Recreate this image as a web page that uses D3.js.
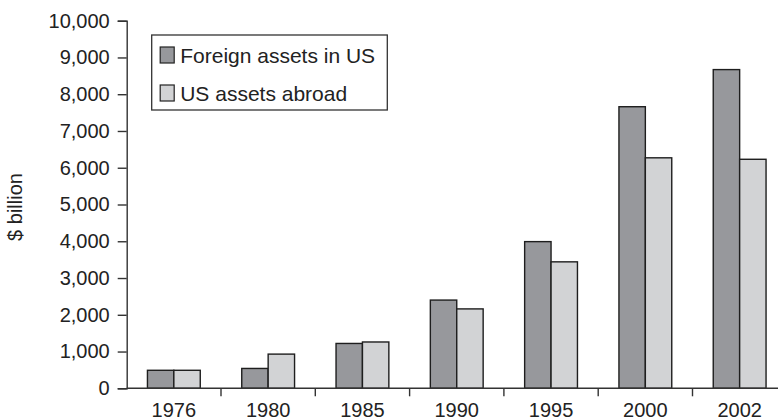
<!DOCTYPE html>
<html>
<head>
<meta charset="utf-8">
<script src="https://cdn.jsdelivr.net/npm/d3@7"></script>
<style>
  body { margin: 0; background: #fff; }
  text { font-family: 'Liberation Sans', Arial, Helvetica, sans-serif; fill: #222; }
</style>
</head>
<body>
<div id="chart"></div>
<script>
const years = ['1976', '1980', '1985', '1990', '1995', '2000', '2002']
const foreignInUS = [490, 540, 1220, 2400, 3990, 7660, 8670]
const usAbroad = [490, 930, 1260, 2160, 3440, 6270, 6230]
const seriesNames = ['Foreign assets in US', 'US assets abroad']
const yTicks = [0, 1000, 2000, 3000, 4000, 5000, 6000, 7000, 8000, 9000, 10000]

const width = 778
const height = 420
const axisX = 126.7
const step = 94.3

const svg = d3
  .select('#chart')
  .append('svg')
  .attr('width', width)
  .attr('height', height)

const x = d3
  .scaleBand()
  .domain(years)
  .range([axisX, axisX + step * years.length])
  .paddingInner(0.44)
  .paddingOuter(0.22)

const x1 = d3
  .scaleBand()
  .domain(seriesNames)
  .range([0, x.bandwidth()])

const y = d3.scaleLinear().domain([0, 10000]).range([388.3, 20.7])

const color = d3.scaleOrdinal().domain(seriesNames).range(['#97989c', '#d2d3d5'])

// bars
const rows = years.map((yr, i) => ({ year: yr, values: [foreignInUS[i], usAbroad[i]] }))
const groups = svg
  .selectAll('.group')
  .data(rows)
  .enter()
  .append('g')
  .attr('transform', d => `translate(${x(d.year)},0)`)

groups
  .selectAll('rect')
  .data(d => d.values.map((v, j) => ({ key: seriesNames[j], value: v })))
  .enter()
  .append('rect')
  .attr('x', d => x1(d.key))
  .attr('y', d => y(d.value))
  .attr('width', x1.bandwidth())
  .attr('height', d => y(0) - y(d.value))
  .attr('fill', d => color(d.key))
  .attr('stroke', '#1e1e1e')
  .attr('stroke-width', 1.4)

// y axis
const yAxis = svg
  .append('g')
  .attr('transform', `translate(${axisX},0)`)
  .call(d3.axisLeft(y).tickValues(yTicks).tickFormat(d3.format(',')).tickSize(9).tickPadding(8))
yAxis.select('.domain').attr('stroke', '#333').attr('stroke-width', 1.4)
yAxis.selectAll('.tick line').attr('stroke', '#333').attr('stroke-width', 1.4)
yAxis.selectAll('.tick text').style('font-size', '20px').attr('fill', '#222')

// x axis
const xAxis = svg.append('g').attr('transform', `translate(0,${y(0)})`)
xAxis
  .append('line')
  .attr('x1', axisX)
  .attr('x2', width)
  .attr('stroke', '#333')
  .attr('stroke-width', 1.4)
xAxis
  .selectAll('.xtick')
  .data(years.slice(1))
  .enter()
  .append('line')
  .attr('x1', d => x(d) - x.step() * 0.22)
  .attr('x2', d => x(d) - x.step() * 0.22)
  .attr('y1', 0)
  .attr('y2', 8)
  .attr('stroke', '#333')
  .attr('stroke-width', 1.4)
xAxis
  .selectAll('.xlabel')
  .data(years)
  .enter()
  .append('text')
  .attr('x', d => x(d) + x.bandwidth() / 2)
  .attr('y', 28.5)
  .attr('text-anchor', 'middle')
  .style('font-size', '20px')
  .text(d => d)

// y title
svg
  .append('text')
  .attr('transform', 'translate(22,207) rotate(-90)')
  .attr('text-anchor', 'middle')
  .style('font-size', '20px')
  .text('$ billion')

// legend
const legend = svg.append('g').attr('transform', 'translate(151.7,35)')
legend
  .append('rect')
  .attr('width', 235.6)
  .attr('height', 75)
  .attr('fill', '#fff')
  .attr('stroke', '#333')
  .attr('stroke-width', 1.3)
const items = legend
  .selectAll('.item')
  .data(seriesNames)
  .enter()
  .append('g')
  .attr('transform', (d, i) => `translate(0,${12 + i * 38})`)
items
  .append('rect')
  .attr('x', 8.5)
  .attr('y', 0)
  .attr('width', 14)
  .attr('height', 16)
  .attr('fill', d => color(d))
  .attr('stroke', '#222')
  .attr('stroke-width', 1.2)
items
  .append('text')
  .attr('x', 28.5)
  .attr('y', 16)
  .style('font-size', '21px')
  .text(d => d)
</script>
</body>
</html>
